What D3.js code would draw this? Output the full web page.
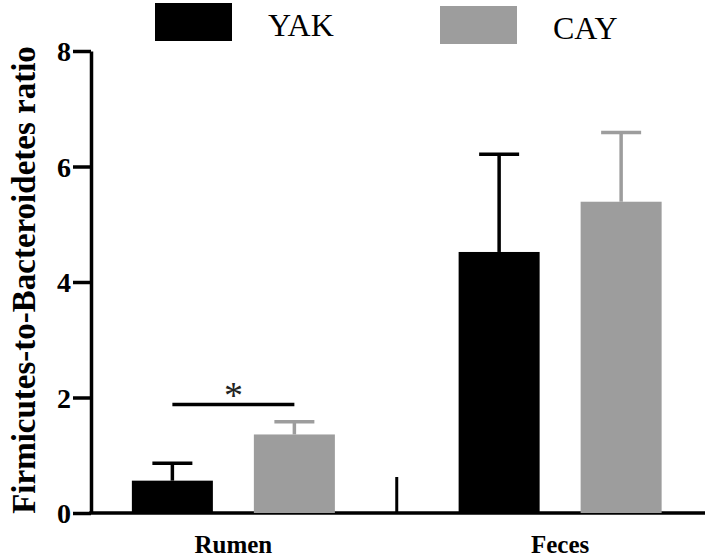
<!DOCTYPE html>
<html>
<head>
<meta charset="utf-8">
<script src="https://cdn.jsdelivr.net/npm/d3@7"></script>
<style>
  body { margin: 0; background: #fff; }
</style>
</head>
<body>
<div id="chart"></div>
<script>
// data
var groups = ["Rumen", "Feces"];
var series = ["YAK", "CAY"];
var colors = ["#000000", "#9d9d9d"];
var means = [[0.56, 1.36], [4.52, 5.39]];   // [group][series]
var errors = [[0.30, 0.22], [1.69, 1.20]];
var yTicks = [0, 2, 4, 6, 8];
var sigLevel = 1.88;

var serif = "'Liberation Serif', 'Times New Roman', Times, serif";
var width = 707, height = 560;

var svg = d3.select("#chart").append("svg")
    .attr("width", width)
    .attr("height", height)
    .style("font-family", serif);

// scales
var yScale = d3.scaleLinear().domain([0, 8]).range([513, 51]);
var x0 = d3.scaleBand().domain(groups).range([70, 723.5]);
var x1 = d3.scaleBand().domain(series).range([-122, 122])
    .paddingInner(0.336).paddingOuter(0.168);

var axisX = 91;

// y axis
var yAxis = svg.append("g")
    .attr("transform", "translate(" + axisX + ",0)")
    .call(d3.axisLeft(yScale).tickValues(yTicks).tickSize(18).tickSizeOuter(0).tickPadding(2));
yAxis.attr("font-family", null).attr("font-size", null);
yAxis.select(".domain").attr("stroke-width", 3.5);
yAxis.selectAll(".tick line").attr("stroke-width", 3.5);
yAxis.selectAll(".tick text")
    .style("font-family", serif)
    .style("font-size", "28px")
    .style("font-weight", "bold")
    .attr("dy", "0.34em")
    .attr("fill", "#000");

// x axis baseline
svg.append("line")
    .attr("x1", axisX - 1.75).attr("x2", 705)
    .attr("y1", yScale(0)).attr("y2", yScale(0))
    .attr("stroke", "#000").attr("stroke-width", 3.5);

// divider tick between groups
svg.append("line")
    .attr("x1", x0("Feces")).attr("x2", x0("Feces"))
    .attr("y1", yScale(0)).attr("y2", yScale(0) - 36)
    .attr("stroke", "#000").attr("stroke-width", 3);

// group labels
svg.selectAll(".glabel").data(groups).enter().append("text")
    .attr("class", "glabel")
    .attr("x", function (d) { return x0(d) + x0.bandwidth() / 2; })
    .attr("y", 553)
    .attr("text-anchor", "middle")
    .style("font-family", serif)
    .style("font-size", "25px")
    .style("font-weight", "bold")
    .text(function (d) { return d; });

// bars and error bars
groups.forEach(function (g, gi) {
    var cx = x0(g) + x0.bandwidth() / 2;
    series.forEach(function (s, si) {
        var left = cx + x1(s);
        var mid = left + x1.bandwidth() / 2;
        var top = yScale(means[gi][si]);
        var errTop = yScale(means[gi][si] + errors[gi][si]);

        svg.append("rect")
            .attr("x", left)
            .attr("y", top)
            .attr("width", x1.bandwidth())
            .attr("height", yScale(0) - top)
            .attr("fill", colors[si]);

        svg.append("line")
            .attr("x1", mid).attr("x2", mid)
            .attr("y1", top).attr("y2", errTop)
            .attr("stroke", colors[si]).attr("stroke-width", 3.5);

        svg.append("line")
            .attr("x1", mid - 20).attr("x2", mid + 20)
            .attr("y1", errTop).attr("y2", errTop)
            .attr("stroke", colors[si]).attr("stroke-width", 3.5);
    });
});

// significance marker for rumen
var rc = x0("Rumen") + x0.bandwidth() / 2;
var sx1 = rc + x1("YAK") + x1.bandwidth() / 2;
var sx2 = rc + x1("CAY") + x1.bandwidth() / 2;
svg.append("line")
    .attr("x1", sx1).attr("x2", sx2)
    .attr("y1", yScale(sigLevel)).attr("y2", yScale(sigLevel))
    .attr("stroke", "#000").attr("stroke-width", 3.5);
svg.append("text")
    .attr("x", (sx1 + sx2) / 2)
    .attr("y", yScale(sigLevel) + 4)
    .attr("text-anchor", "middle")
    .style("font-family", serif)
    .style("font-size", "38px")
    .attr("fill", "#222")
    .text("*");

// y axis title
svg.append("text")
    .attr("transform", "translate(35," + 280 + ") rotate(-90)")
    .attr("text-anchor", "middle")
    .style("font-family", serif)
    .style("font-size", "33px")
    .style("font-weight", "bold")
    .text("Firmicutes-to-Bacteroidetes ratio");

// legend
var legendX = [155, 440];
var legendY = [3, 6];
series.forEach(function (s, i) {
    svg.append("rect")
        .attr("x", legendX[i]).attr("y", legendY[i])
        .attr("width", 77).attr("height", 38)
        .attr("fill", colors[i]);
    svg.append("text")
        .attr("x", legendX[i] + 113)
        .attr("y", legendY[i] + 33)
        .style("font-family", serif)
        .style("font-size", "32px")
        .text(s);
});
</script>
</body>
</html>
